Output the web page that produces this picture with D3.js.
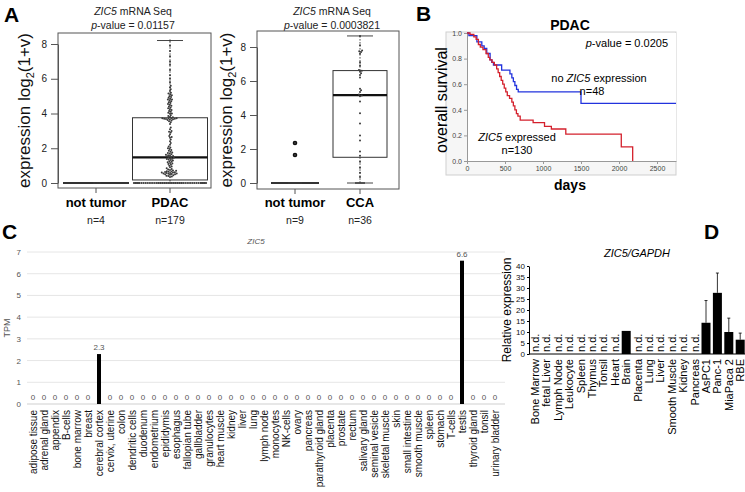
<!DOCTYPE html>
<html><head><meta charset="utf-8">
<script src="https://cdn.jsdelivr.net/npm/d3@7"></script>
<style>body{margin:0;background:#fff}svg{display:block}text{font-family:"Liberation Sans",Arial,sans-serif}</style>
</head><body><svg id="c" width="745" height="492"></svg>
<script>
// ---------- DATA ----------
// Panel A, left: PDAC dataset
const pdacNormal = [0,0,0,0];
const pdacTumor = [
 0,0,0,0,0,0,0,0,0,0,0,0,0,0,0,0,0,0,0,0,0,0,0,0,0,0,0,0,0,0,0,0,0,0,0,0,0,0,0,0,0,0,0,0,0,
 0.35,0.38,0.4,0.42,0.45,0.47,0.5,0.5,0.52,0.53,0.55,0.55,0.57,0.58,0.6,0.6,0.62,0.63,0.65,0.66,0.68,0.7,0.72,0.75,0.78,0.8,0.85,0.9,
 0.95,1.0,1.05,1.1,1.12,1.15,1.2,1.22,1.25,1.3,1.32,1.35,1.38,1.4,1.42,1.45,1.48,
 1.5,1.52,1.55,1.58,1.6,1.62,1.65,1.7,1.72,1.75,1.8,1.85,1.9,1.95,2.0,2.05,2.1,2.2,2.3,2.4,
 2.5,2.6,2.65,2.7,2.8,2.9,2.95,3.0,3.1,3.2,
 3.4,3.5,3.55,3.6,3.62,3.65,3.67,3.68,3.7,3.7,3.72,3.72,3.73,3.73,
 3.78,3.8,3.85,3.9,4.0,4.0,4.05,4.1,4.15,4.2,4.25,4.3,4.35,4.4,4.45,4.5,4.55,4.6,4.65,4.7,4.75,4.8,4.8,4.85,4.9,4.95,5.0,5.05,5.1,5.15,5.2,5.3,5.4,5.5,5.6,
 5.8,6.0,6.2,6.5,6.8,7.0,7.3,7.6,7.9,8.2];
// Panel A, right: CCA dataset
const ccaNormal = [0,0,0,0,0,0,0,1.65,2.35];
const ccaTumor = [0,0,0,0,0,0.35,0.6,0.9,1.25,1.6,1.85,2.5,2.8,3.5,4.1,4.8,5.1,5.15,
 5.2,5.35,5.45,5.55,6.2,6.35,6.45,6.55,6.6,6.65,6.9,7.1,7.6,7.7,7.75,7.8,8.1,8.65];
const groupNamesA1 = ["not tumor","PDAC"];
const groupNamesA2 = ["not tumor","CCA"];
const yTicksA = [0,2,4,6,8];

// Panel B: Kaplan-Meier steps
const noExprTimes = [0,25,130,195,226,260,304,326,348,456,565,590,610,630,652,674,1500];
const noExprSurv  = [1.0,0.98,0.93,0.90,0.88,0.84,0.79,0.77,0.75,0.71,0.68,0.65,0.62,0.59,0.56,0.54,0.45];
const noExprEnd = 2750;
const exprTimes = [0,40,90,120,150,175,210,250,280,300,330,360,390,410,430,450,470,490,510,530,560,590,610,630,650,670,700,870,1020,1110,1300,2030,2180];
const exprSurv  = [1.0,0.99,0.97,0.95,0.91,0.89,0.87,0.84,0.81,0.79,0.77,0.75,0.72,0.69,0.66,0.63,0.60,0.57,0.54,0.51,0.49,0.46,0.43,0.40,0.37,0.35,0.32,0.30,0.27,0.25,0.21,0.11,0.0];
const kmXTicks = [0,500,1000,1500,2000,2500];
const kmYTicks = [0,0.2,0.4,0.6,0.8,1.0];

// Panel C: TPM by tissue
const tissues = ["adipose tissue","adrenal gland","appendix","B-cells","bone marrow","breast","cerebral cortex","cervix, uterine","colon","dendritic cells","duodenum","endometrium","epididymis","esophagus","fallopian tube","gallbladder","granulocytes","heart muscle","kidney","liver","lung","lymph node","monocytes","NK-cells","ovary","pancreas","parathyroid gland","placenta","prostate","rectum","salivary gland","seminal vesicle","skeletal muscle","skin","small intestine","smooth muscle","spleen","stomach","T-cells","testis","thyroid gland","tonsil","urinary bladder"];
const tpm = [0,0,0,0,0,0,2.3,0,0,0,0,0,0,0,0,0,0,0,0,0,0,0,0,0,0,0,0,0,0,0,0,0,0,0,0,0,0,0,0,6.6,0,0,0];
const tpmTicks = [0,1,2,3,4,5,6,7];

// Panel D: relative expression (null = n.d.)
const samplesD = ["Bone Marrow","fetal Liver","Lymph Node","Leukocyte","Spleen","Thymus","Tonsil","Heart","Brain","Placenta","Lung","Liver","Smooth Muscle","Kidney","Pancreas","AsPC1","Panc-1","MiaPaca 2","RBE"];
const relExpr = [null,null,null,null,null,null,null,null,10.5,null,null,null,null,null,null,14.2,27.8,10.0,6.5];
const relErr  = [null,null,null,null,null,null,null,null,null,null,null,null,null,null,null,10.1,9.0,6.3,3.0];
const relTicks = [0,5,10,15,20,25,30,35,40];

// ---------- DRAWING ----------
const svg = d3.select("#c");
const FONT = '"Liberation Sans",Arial,sans-serif';

function panelLetter(t,x,y){
  svg.append("text").attr("x",x).attr("y",y).attr("font-size",21).attr("font-weight","bold").text(t);
}
panelLetter("A",4,22); panelLetter("B",416,21); panelLetter("C",2,239); panelLetter("D",704,239);

// beeswarm layout with "wrap" corral inside half-width hw
function swarm(vals, y, d, hw){
  const sorted = vals.slice().sort((a,b)=>a-b);
  const placed=[];
  sorted.forEach(v=>{
    const py=y(v);
    const near=placed.filter(p=>Math.abs(p.y-py)<d);
    const cands=[0];
    near.forEach(p=>{const dx=Math.sqrt(d*d-(p.y-py)**2); cands.push(p.raw+dx,p.raw-dx);});
    cands.sort((a,b)=>Math.abs(a)-Math.abs(b));
    let best=0;
    for(const c of cands){
      if(near.every(p=>(p.raw-c)**2+(p.y-py)**2>=d*d-1e-6)){best=c;break;}
    }
    let xx=best;
    if(Math.abs(xx)>hw){ xx=((xx+hw)%(2*hw)+2*hw)%(2*hw)-hw; }
    placed.push({raw:best,x:xx,y:py,v});
  });
  return placed;
}

function boxPanel(cfg){
  const g=svg.append("g");
  const y=d3.scaleLinear().domain([0,8]).range([cfg.y0v,cfg.y8v]);
  const t1=g.append("text").attr("x",cfg.tx).attr("y",15).attr("text-anchor","middle").attr("font-size",10.5).attr("fill","#222");
  t1.append("tspan").attr("font-style","italic").text("ZIC5");
  t1.append("tspan").text(" mRNA Seq");
  const t2=g.append("text").attr("x",cfg.tx).attr("y",29).attr("text-anchor","middle").attr("font-size",10.5).attr("fill","#222");
  t2.append("tspan").attr("font-style","italic").text("p");
  t2.append("tspan").text("-value = "+cfg.p);
  g.append("rect").attr("x",cfg.left).attr("y",cfg.top).attr("width",cfg.right-cfg.left).attr("height",cfg.bottom-cfg.top)
    .attr("fill","none").attr("stroke","#555").attr("stroke-width",1);
  const ax=g.append("g").attr("transform",`translate(${cfg.left},0)`)
    .call(d3.axisLeft(y).tickValues(yTicksA).tickSize(7).tickSizeOuter(0).tickPadding(4));
  ax.select(".domain").attr("stroke","#555");
  ax.selectAll(".tick line").attr("stroke","#555");
  ax.selectAll(".tick text").attr("font-size",10).attr("font-family",FONT).attr("fill","#222");
  const yt=g.append("text").attr("transform",`translate(${cfg.ytx},${(cfg.top+cfg.bottom)/2}) rotate(-90)`)
    .attr("text-anchor","middle").attr("font-size",17).attr("fill","#111");
  yt.append("tspan").text("expression log");
  yt.append("tspan").attr("font-size",11).attr("dy",4).text("2");
  yt.append("tspan").attr("dy",-4).text("(1+v)");
  cfg.groups.forEach(gr=>{
    const s=gr.values.slice().sort((a,b)=>a-b);
    const q1=d3.quantile(s,0.25), med=d3.quantile(s,0.5), q3=d3.quantile(s,0.75);
    const iqr=q3-q1;
    const hiW=d3.max(s.filter(v=>v<=q3+1.5*iqr)), loW=d3.min(s.filter(v=>v>=q1-1.5*iqr));
    const outl=s.filter(v=>v>q3+1.5*iqr||v<q1-1.5*iqr);
    const cx=gr.cx, hw=gr.bw/2, cap=13;
    g.append("line").attr("x1",cx).attr("x2",cx).attr("y1",y(q3)).attr("y2",y(hiW)).attr("stroke","#444").attr("stroke-dasharray","1.5,1.5");
    g.append("line").attr("x1",cx).attr("x2",cx).attr("y1",y(q1)).attr("y2",y(loW)).attr("stroke","#444").attr("stroke-dasharray","1.5,1.5");
    if(hiW>q3) g.append("line").attr("x1",cx-cap).attr("x2",cx+cap).attr("y1",y(hiW)).attr("y2",y(hiW)).attr("stroke","#444");
    if(loW<q1) g.append("line").attr("x1",cx-cap).attr("x2",cx+cap).attr("y1",y(loW)).attr("y2",y(loW)).attr("stroke","#444");
    g.append("rect").attr("x",cx-hw).attr("y",y(q3)).attr("width",gr.bw).attr("height",Math.max(0,y(q1)-y(q3)))
      .attr("fill","none").attr("stroke","#333").attr("stroke-width",1);
    g.append("line").attr("x1",cx-hw).attr("x2",cx+hw).attr("y1",y(med)).attr("y2",y(med)).attr("stroke",q3>q1?"#111":"#333").attr("stroke-width",2.2);
    outl.forEach(v=>g.append("circle").attr("cx",cx).attr("cy",y(v)).attr("r",2.3).attr("fill","#111"));
    swarm(gr.values,y,cfg.d,hw-1).forEach(p=>{
      g.append("circle").attr("cx",cx+p.x).attr("cy",p.y).attr("r",1.0).attr("fill","#3a3a3a");
    });
    g.append("line").attr("x1",cx).attr("x2",cx).attr("y1",cfg.bottom).attr("y2",cfg.bottom+5).attr("stroke","#555");
    g.append("text").attr("x",cx).attr("y",207).attr("text-anchor","middle").attr("font-size",13).attr("font-weight","bold").text(gr.name);
    g.append("text").attr("x",cx).attr("y",224).attr("text-anchor","middle").attr("font-size",10.5).attr("fill","#222").text("n="+gr.values.length);
  });
}
boxPanel({left:58,right:211,top:33,bottom:188,y0v:183,y8v:44,tx:133,ytx:30,p:"0.01157",d:1.9,
  groups:[{name:groupNamesA1[0],values:pdacNormal,cx:96,bw:66},{name:groupNamesA1[1],values:pdacTumor,cx:170,bw:75}]});
boxPanel({left:257,right:399,top:31,bottom:189,y0v:183,y8v:47,tx:332,ytx:232,p:"0.0003821",d:2.0,
  groups:[{name:groupNamesA2[0],values:ccaNormal,cx:295,bw:48},{name:groupNamesA2[1],values:ccaTumor,cx:360,bw:54}]});

// ---------- Panel B ----------
(function(){
  const g=svg.append("g");
  g.append("rect").attr("x",446).attr("y",32).attr("width",230).attr("height",143).attr("fill","#f6f6f6").attr("stroke","#cfcfcf");
  const x=d3.scaleLinear().domain([0,2750]).range([467,676]);
  const y=d3.scaleLinear().domain([0,1]).range([161,33]);
  g.append("rect").attr("x",467).attr("y",33).attr("width",209).attr("height",128).attr("fill","#fff");
  const xa=g.append("g").attr("transform","translate(0,161)").call(d3.axisBottom(x).tickValues(kmXTicks).tickFormat(d3.format("d")).tickSize(3).tickSizeOuter(0).tickPadding(2));
  const ya=g.append("g").attr("transform","translate(467,0)").call(d3.axisLeft(y).tickValues(kmYTicks).tickFormat(d3.format(".1f")).tickSize(3).tickSizeOuter(0).tickPadding(2));
  [xa,ya].forEach(a=>{a.select(".domain").attr("stroke","#999");a.selectAll(".tick line").attr("stroke","#999");
    a.selectAll(".tick text").attr("font-size",7).attr("fill","#444").attr("font-family",FONT);});
  const line=d3.line().x(d=>x(d[0])).y(d=>y(d[1])).curve(d3.curveStepAfter);
  const bluePts=noExprTimes.map((t,i)=>[t,noExprSurv[i]]); bluePts.push([noExprEnd,noExprSurv[noExprSurv.length-1]]);
  const redPts=exprTimes.map((t,i)=>[t,exprSurv[i]]);
  g.append("path").attr("d",line(bluePts)).attr("fill","none").attr("stroke","#2233dd").attr("stroke-width",1.3);
  g.append("path").attr("d",line(redPts)).attr("fill","none").attr("stroke","#d4202c").attr("stroke-width",1.3);
  g.append("text").attr("x",570).attr("y",30).attr("text-anchor","middle").attr("font-size",14).attr("font-weight","bold").text("PDAC");
  g.append("text").attr("x",570).attr("y",190).attr("text-anchor","middle").attr("font-size",14).attr("font-weight","bold").text("days");
  g.append("text").attr("transform","translate(447,100) rotate(-90)").attr("text-anchor","middle").attr("font-size",16).text("overall survival");
  const pv=g.append("text").attr("x",668).attr("y",47).attr("text-anchor","end").attr("font-size",11);
  pv.append("tspan").attr("font-style","italic").text("p"); pv.append("tspan").text("-value = 0.0205");
  const l1=g.append("text").attr("x",599).attr("y",82).attr("text-anchor","middle").attr("font-size",11);
  l1.append("tspan").text("no "); l1.append("tspan").attr("font-style","italic").text("ZIC5"); l1.append("tspan").text(" expression");
  g.append("text").attr("x",592).attr("y",95).attr("text-anchor","middle").attr("font-size",11).text("n=48");
  const l2=g.append("text").attr("x",517).attr("y",141).attr("text-anchor","middle").attr("font-size",11);
  l2.append("tspan").attr("font-style","italic").text("ZIC5"); l2.append("tspan").text(" expressed");
  g.append("text").attr("x",517).attr("y",154).attr("text-anchor","middle").attr("font-size",11).text("n=130");
})();

// ---------- Panel C ----------
(function(){
  const g=svg.append("g");
  const x=d3.scaleBand().domain(tissues).range([27.5,27.5+tissues.length*11]).padding(0);
  const y=d3.scaleLinear().domain([0,7]).range([404,252]);
  tpmTicks.forEach(t=>{
    g.append("line").attr("x1",27).attr("x2",505).attr("y1",y(t)).attr("y2",y(t)).attr("stroke",t===0?"#cfcfcf":"#e6e6e6");
  });
  const ya=g.append("g").attr("transform","translate(27,0)").call(d3.axisLeft(y).tickValues(tpmTicks).tickFormat(d3.format("d")).tickSize(0).tickPadding(6));
  ya.select(".domain").remove();
  ya.selectAll(".tick text").attr("font-size",8).attr("fill","#555").attr("font-family",FONT);
  g.append("text").attr("transform",`translate(10,${y(3.5)}) rotate(-90)`).attr("text-anchor","middle").attr("font-size",9).attr("fill","#555").text("TPM");
  g.append("text").attr("x",256).attr("y",244).attr("text-anchor","middle").attr("font-size",8).attr("font-style","italic").attr("fill","#555").text("ZIC5");
  tissues.forEach((t,i)=>{
    const cx=x(t)+x.bandwidth()/2, v=tpm[i];
    if(v>0) g.append("rect").attr("x",cx-2).attr("y",y(v)).attr("width",4).attr("height",y(0)-y(v)).attr("fill","#000");
    g.append("text").attr("x",cx).attr("y",y(v)-4).attr("text-anchor","middle").attr("font-size",8).attr("fill","#555").text(v===0?"0":String(v));
    g.append("text").attr("transform",`translate(${cx+3.5},410) rotate(-90)`).attr("text-anchor","end").attr("font-size",10).attr("fill","#111").text(t);
  });
})();

// ---------- Panel D ----------
(function(){
  const g=svg.append("g");
  const x=d3.scaleBand().domain(samplesD).range([529.3,529.3+samplesD.length*11.4]).padding(0);
  const y=d3.scaleLinear().domain([0,40]).range([354,266]);
  const ya=g.append("g").attr("transform","translate(529,0)").call(d3.axisLeft(y).tickValues(relTicks).tickSize(2).tickSizeOuter(0).tickPadding(2));
  ya.select(".domain").attr("stroke","#000");
  ya.selectAll(".tick text").attr("font-size",8).attr("fill","#111").attr("font-family",FONT);
  g.append("line").attr("x1",529).attr("x2",745).attr("y1",354).attr("y2",354).attr("stroke","#000");
  g.append("text").attr("transform",`translate(511,${y(20)}) rotate(-90)`).attr("text-anchor","middle").attr("font-size",12).text("Relative expression");
  g.append("text").attr("x",637).attr("y",257).attr("text-anchor","middle").attr("font-size",11).attr("font-style","italic").text("ZIC5/GAPDH");
  samplesD.forEach((s,i)=>{
    const cx=x(s)+x.bandwidth()/2, v=relExpr[i], e=relErr[i];
    if(v===null){
      g.append("text").attr("transform",`translate(${cx+4},352) rotate(-90)`).attr("text-anchor","start").attr("font-size",11).text("n.d.");
    } else {
      if(e!==null){
        g.append("line").attr("x1",cx).attr("x2",cx).attr("y1",y(v)).attr("y2",y(v+e)).attr("stroke","#000").attr("stroke-width",0.8);
        g.append("line").attr("x1",cx-1.5).attr("x2",cx+1.5).attr("y1",y(v+e)).attr("y2",y(v+e)).attr("stroke","#000").attr("stroke-width",0.8);
      }
      g.append("rect").attr("x",cx-4.5).attr("y",y(v)).attr("width",9).attr("height",y(0)-y(v)).attr("fill","#000");
    }
    g.append("text").attr("transform",`translate(${cx+4},359) rotate(-90)`).attr("text-anchor","end").attr("font-size",11).text(s);
  });
})();
</script></body></html>
